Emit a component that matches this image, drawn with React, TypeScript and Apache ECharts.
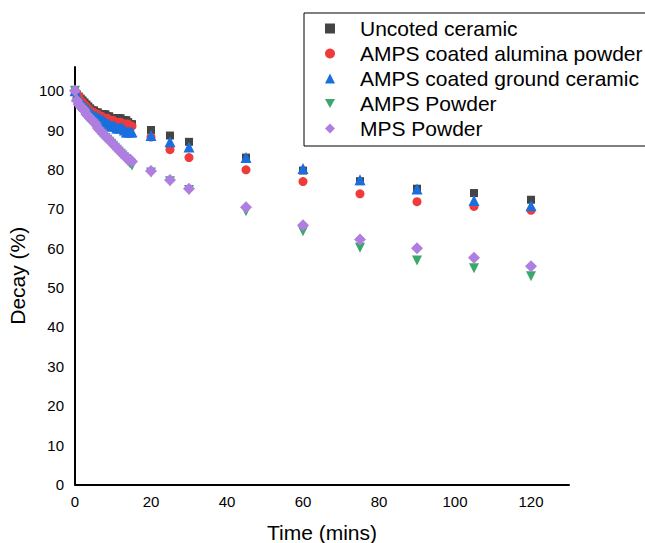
import React, { useEffect, useRef } from "react";
import * as echarts from "echarts";

const times = [
  0, 0.5, 1, 1.5, 2, 2.5, 3, 3.5, 4, 4.5, 5, 5.5, 6, 6.5, 7, 7.5, 8, 8.5, 9, 9.5,
  10, 10.5, 11, 11.5, 12, 12.5, 13, 13.5, 14, 14.5, 15, 20, 25, 30, 45, 60, 75, 90, 105, 120,
];

const uncoatedCeramic = [
  100, 99, 98.5, 98, 97.5, 97, 96.5, 96, 95.5, 95, 95, 94.5, 94.5, 94, 94, 94, 94, 93.5, 93.5, 93,
  93, 93, 93, 93, 93, 92.5, 92.5, 92.5, 92, 91.5, 91.5, 90.0, 88.6, 87.0, 83.0, 79.7, 77.0, 75.1, 74.0, 72.3,
];

const ampsAlumina = [
  100, 99, 98.5, 97.5, 97, 96.5, 96, 95.5, 95, 94.5, 94.5, 94, 94, 93.5, 93.5, 93, 93, 93, 92.5, 92.5,
  92.5, 92, 92, 92, 92, 91.5, 91.5, 91.5, 91.5, 91, 91, 88.2, 85.0, 83.0, 79.9, 76.9, 73.8, 71.8, 70.6, 69.6,
];

const ampsGroundCeramic = [
  100, 98.5, 98, 97, 96.5, 96, 95.5, 95, 94.5, 94, 93.5, 93.5, 93, 93, 92.5, 92.5, 92, 91.5, 91.5, 91,
  91, 91, 90.5, 90.5, 90.5, 90.5, 90, 89.5, 89.5, 89.5, 89.5, 88.6, 87.0, 85.7, 83.0, 80.2, 77.4, 75.0, 72.1, 70.8,
];

const ampsPowder = [
  100, 97, 96, 95.5, 95, 94.5, 93.5, 93, 92.5, 92, 91.5, 91, 90, 89.5, 89, 88.5, 88, 87.5, 87, 86.5,
  86, 85.5, 85, 84.5, 84, 83.5, 83, 82.5, 82, 81.5, 81, 79.2, 77.0, 74.8, 69.4, 64.3, 60.1, 56.9, 54.9, 52.9,
];

const mpsPowder = [
  100, 97.5, 96.5, 96, 95.5, 95, 94, 93.5, 93, 92.5, 92, 91.5, 90.5, 90, 89.5, 89, 88.5, 88, 87.5, 87,
  86.5, 86, 85.5, 85, 84.5, 84, 83.5, 83, 82.5, 82.5, 82, 79.6, 77.3, 75.1, 70.4, 65.8, 62.2, 60.0, 57.6, 55.4,
];

const seriesNames = [
  "Uncoted ceramic",
  "AMPS coated alumina powder",
  "AMPS coated ground ceramic",
  "AMPS Powder",
  "MPS Powder",
];

const FONT = "Liberation Sans, Arial, sans-serif";

export default function App() {
  const ref = useRef<HTMLDivElement>(null);

  useEffect(() => {
    if (!ref.current) return;
    const chart = echarts.init(ref.current, null, { renderer: "svg" });

    const pair = (vals: number[]) => times.map((t, i) => [t, vals[i]]);

    const downTri = "path://M0,0L10,0L5,9Z";

    const defs = [
      { name: seriesNames[0], data: uncoatedCeramic, symbol: "rect", size: 8, color: "#444444" },
      { name: seriesNames[1], data: ampsAlumina, symbol: "circle", size: 9, color: "#ef3b3b" },
      { name: seriesNames[2], data: ampsGroundCeramic, symbol: "triangle", size: 11, color: "#1a6fe0" },
      { name: seriesNames[3], data: ampsPowder, symbol: downTri, size: 10, color: "#3aa86a" },
      { name: seriesNames[4], data: mpsPowder, symbol: "diamond", size: 12, color: "#b07ee0" },
    ];

    chart.setOption({
      animation: false,
      backgroundColor: "#ffffff",
      textStyle: { fontFamily: FONT },
      grid: {
        left: 75,
        right: 76,
        top: 67,
        bottom: 58.5,
        containLabel: false,
        outerBoundsMode: "none",
      },
      legend: {
        orient: "vertical",
        left: 304,
        top: 13,
        padding: [5, 60, 7, 21],
        itemWidth: 10,
        itemHeight: 10,
        itemGap: 4,
        symbolKeepAspect: true,
        borderColor: "#000000",
        borderWidth: 1,
        textStyle: { fontSize: 21, color: "#000000", fontFamily: FONT, padding: [0, 0, 0, 20] },
        data: seriesNames,
      },
      xAxis: {
        type: "value",
        min: 0,
        max: 130,
        interval: 20,
        name: "Time (mins)",
        nameLocation: "middle",
        nameGap: 37,
        nameTextStyle: { fontSize: 21, color: "#000000", fontFamily: FONT },
        axisLine: { show: true, onZero: false, lineStyle: { color: "#000000", width: 2 } },
        axisTick: { show: false },
        splitLine: { show: false },
        axisLabel: {
          fontSize: 15,
          color: "#000000",
          margin: 9,
          fontFamily: FONT,
          formatter: (v: number) => (v % 20 === 0 && v <= 120 ? String(v) : ""),
        },
      },
      yAxis: {
        type: "value",
        min: 0,
        max: 106,
        interval: 10,
        name: "Decay (%)",
        nameLocation: "middle",
        nameGap: 40,
        nameTextStyle: { fontSize: 21, color: "#000000", fontFamily: FONT },
        axisLine: { show: true, onZero: false, lineStyle: { color: "#000000", width: 2 } },
        axisTick: { show: false },
        splitLine: { show: false },
        axisLabel: {
          fontSize: 15,
          color: "#000000",
          margin: 11,
          fontFamily: FONT,
          formatter: (v: number) => (v % 10 === 0 && v <= 100 ? String(v) : ""),
        },
      },
      series: defs.map((d) => ({
        name: d.name,
        type: "scatter",
        symbol: d.symbol,
        symbolSize: d.size,
        itemStyle: { color: d.color, opacity: 1 },
        emphasis: { disabled: true },
        data: pair(d.data),
      })),
    });

    return () => chart.dispose();
  }, []);

  return <div ref={ref} style={{ width: 645, height: 543, position: "absolute", left: 0, top: 0 }} />;
}
